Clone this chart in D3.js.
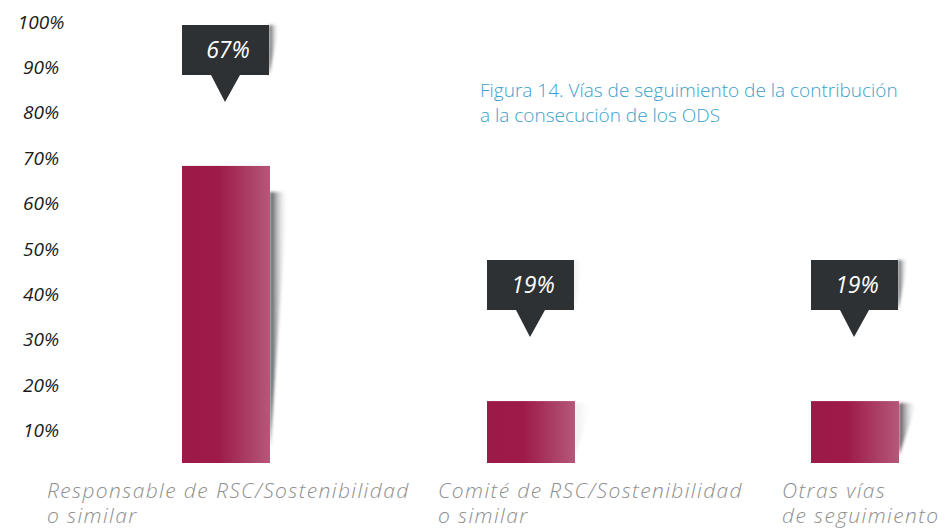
<!DOCTYPE html>
<html>
<head>
<meta charset="utf-8">
<script src="https://cdn.jsdelivr.net/npm/d3@7"></script>
<style>
  body { margin: 0; background: #fff; }
  svg text { font-family: "Open Sans", "DejaVu Sans", sans-serif; }
</style>
</head>
<body>
<svg id="chart" width="947" height="530"></svg>
<script>
// categories + values (labels as printed, bar heights as drawn on the axis)
var categories = ["Responsable de RSC/Sostenibilidad|o similar", "Comité de RSC/Sostenibilidad|o similar", "Otras vías|de seguimiento"];
var labelValues = [67, 19, 19];
var barValues = [68.3, 16.5, 16.5];
var ticks = [10, 20, 30, 40, 50, 60, 70, 80, 90, 100];
var titleLines = ["Figura 14. Vías de seguimiento de la contribución", "a la consecución de los ODS"];

var svg = d3.select("#chart");

// layout
var barW = 88;
var floorGap = 13;  // bars stand a little above the 0 line
var shadowStrength = [1, 0.1, 1];

var y = d3.scaleLinear().domain([0, 100]).range([476, 22]);
var x = d3.scaleOrdinal().domain(categories).range([182, 487, 811]);
var labelX = d3.scaleOrdinal().domain(categories).range([47, 438, 782]);

var defs = svg.append("defs");

var barGrad = defs.append("linearGradient").attr("id", "barGrad");
barGrad.append("stop").attr("offset", "0%").attr("stop-color", "#9c1a47");
barGrad.append("stop").attr("offset", "42%").attr("stop-color", "#9e1b49");
barGrad.append("stop").attr("offset", "100%").attr("stop-color", "#b4587a");

var shGrad = defs.append("linearGradient").attr("id", "shGrad");
shGrad.append("stop").attr("offset", "0%").attr("stop-color", "#3a3e42").attr("stop-opacity", 0.95);
shGrad.append("stop").attr("offset", "100%").attr("stop-color", "#ffffff").attr("stop-opacity", 0);

defs.append("filter").attr("id", "blur").attr("x", "-50%").attr("width", "200%")
  .append("feGaussianBlur").attr("stdDeviation", 1.6);

// y tick labels
svg.selectAll(".tick").data(ticks).enter().append("text")
  .attr("x", 41)
  .attr("y", function(d) { return y(d); })
  .attr("dy", "0.35em")
  .attr("text-anchor", "middle")
  .attr("font-style", "italic")
  .attr("font-size", 19)
  .attr("fill", "#1a1a1a")
  .text(function(d) { return d + "%"; });

// title
svg.append("text")
  .attr("x", 480).attr("y", 97)
  .attr("font-size", 19)
  .attr("font-weight", 300)
  .attr("fill", "#3a9fcc")
  .selectAll("tspan").data(titleLines).enter().append("tspan")
  .attr("x", 480)
  .attr("dy", function(d, i) { return i ? 25 : 0; })
  .text(function(d) { return d; });

var g = svg.selectAll(".item").data(categories).enter().append("g");

// bar shadows
g.append("path")
  .attr("d", function(d, i) {
    var x1 = x(d) + barW, top = y(barValues[i]) + (i === 0 ? 26 : 2), bot = y(0) - floorGap - (i === 0 ? 16 : 8);
    return "M" + x1 + "," + top + "L" + (x1 + 18) + "," + top + "L" + x1 + "," + bot + "Z";
  })
  .attr("fill", "url(#shGrad)")
  .attr("opacity", function(d, i) { return shadowStrength[i]; })
  .attr("filter", "url(#blur)");

// bars
g.append("rect")
  .attr("x", function(d) { return x(d); })
  .attr("y", function(d, i) { return y(barValues[i]); })
  .attr("width", barW)
  .attr("height", function(d, i) { return y(0) - floorGap - y(barValues[i]); })
  .attr("fill", "url(#barGrad)");

// callouts
var apexGap = 64;
var callout = g.append("g")
  .attr("transform", function(d, i) { return "translate(" + x(d) + "," + (y(barValues[i]) - apexGap) + ")"; });

callout.append("path")
  .attr("d", "M" + (barW - 1) + ",-77L" + (barW + 9) + ",-77L" + (barW - 1) + ",-27Z")
  .attr("fill", "url(#shGrad)")
  .attr("opacity", function(d, i) { return shadowStrength[i]; })
  .attr("filter", "url(#blur)");

callout.append("path")
  .attr("d", "M0,-77H" + (barW - 1) + "V-27H" + 58 + "L" + 43 + ",0L" + 29 + ",-27H0Z")
  .attr("fill", "#2d3133");

callout.append("text")
  .attr("x", barW / 2 + 2)
  .attr("y", -44)
  .attr("text-anchor", "middle")
  .attr("font-style", "italic")
  .attr("font-size", 23)
  .attr("fill", "#ffffff")
  .text(function(d, i) { return labelValues[i] + "%"; });

// category labels
g.append("text")
  .attr("x", function(d) { return labelX(d); })
  .attr("y", 498)
  .attr("font-style", "italic")
  .attr("font-weight", 300)
  .attr("font-size", 21)
  .attr("letter-spacing", 1.4)
  .attr("fill", "#8e8e8e")
  .selectAll("tspan").data(function(d) { return d.split("|"); }).enter().append("tspan")
  .attr("x", function() { return labelX(d3.select(this.parentNode).datum()); })
  .attr("dy", function(d, i) { return i ? 25 : 0; })
  .text(function(d) { return d; });
</script>
</body>
</html>
